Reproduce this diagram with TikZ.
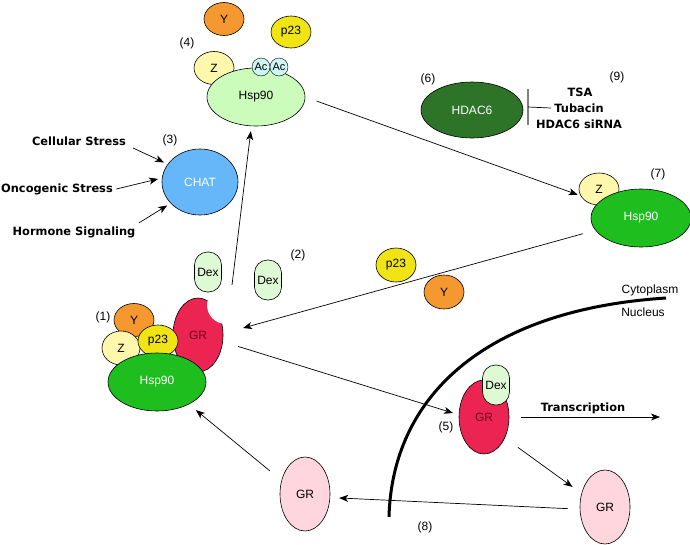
\documentclass[tikz,border=0pt]{standalone}
\usepackage{fontspec}
\setmainfont{Liberation Sans}
\newfontfamily\labfont{DejaVu Sans}
\usepackage{tikz}
\usetikzlibrary{arrows.meta, positioning, shapes.geometric, calc}

\definecolor{colY}{RGB}{245,152,48}
\definecolor{colP}{RGB}{240,228,20}
\definecolor{colZ}{RGB}{255,247,172}
\definecolor{colAc}{RGB}{205,245,245}
\definecolor{colHspL}{RGB}{204,252,188}
\definecolor{colHsp}{RGB}{30,190,30}
\definecolor{colChat}{RGB}{102,182,250}
\definecolor{colHdac}{RGB}{46,116,40}
\definecolor{colGR}{RGB}{236,36,82}
\definecolor{colGRtxt}{RGB}{110,10,30}
\definecolor{colPink}{RGB}{255,214,222}
\definecolor{colDex}{RGB}{222,250,212}

\begin{document}
\begin{tikzpicture}[x=1pt, y=-1pt,
  mol/.style={draw, ellipse, inner sep=0pt, line width=0.6pt,
              font=\fontsize{12}{14}\selectfont},
  protY/.style={mol, fill=colY, minimum width=40pt, minimum height=33pt},
  protZ/.style={mol, fill=colZ, minimum width=40pt, minimum height=33pt},
  protP/.style={mol, fill=colP, minimum width=40pt, minimum height=32pt},
  hspL/.style ={mol, fill=colHspL, minimum width=98pt, minimum height=58pt},
  hspD/.style ={mol, fill=colHsp, text=white, minimum width=100pt, minimum height=58pt},
  grR/.style  ={mol, fill=colGR, text=colGRtxt, minimum width=50pt, minimum height=74pt},
  grP/.style  ={mol, fill=colPink, minimum width=50pt, minimum height=74pt},
  acet/.style ={draw, circle, fill=colAc, inner sep=0pt, minimum size=18pt,
                font=\fontsize{11}{12}\selectfont},
  dex/.style  ={draw, rectangle, rounded corners=13pt, fill=colDex, line width=0.6pt,
                minimum width=27pt, minimum height=40pt, inner sep=0pt,
                font=\fontsize{12}{14}\selectfont},
  num/.style  ={font=\fontsize{12}{14}\selectfont},
  lab/.style  ={font=\labfont\bfseries\fontsize{11.4}{13}\selectfont},
  arr/.style  ={-{Stealth[length=9pt, width=7pt, inset=2.5pt]}, line width=0.7pt},
]
  \useasboundingbox (0,0) rectangle (690,544);

  % === (4) acetylated Hsp90 ===
  \node[protY] (yTop) at (224,19) {Y};
  \node[protP] (pTop) at (291,32) {p23};
  \node[num] (n4) at (187,43) {(4)};
  \node[protZ] (zTop) at (214,68) {Z};
  \node[hspL] (hspT) at (256,97) {Hsp90};
  \node[acet] (acA) at (261,67) {Ac};
  \node[acet] (acB) at (279,67) {Ac};

  % === (3) CHAT and stresses ===
  \node[mol, fill=colChat, text=white, minimum width=76pt, minimum height=66pt]
    (chat) at (200,182) {CHAT};
  \node[num] (n3) at (170,140) {(3)};
  \node[lab] (cellular)  at (79,141) {Cellular Stress};
  \node[lab] (oncogenic) at (57,189) {Oncogenic Stress};
  \node[lab] (hormone)   at (74,232) {Hormone Signaling};
  \coordinate (csEnd) at (133,148);
  \draw[arr, shorten >=4pt] (csEnd) -- (chat.151);
  \draw[arr, shorten >=4pt] (oncogenic.east) -- (chat.174);
  \draw[arr, shorten >=4pt] (hormone.north east) -- (chat.216);

  % === (6) HDAC6 and (9) inhibitors ===
  \node[mol, fill=colHdac, text=white, minimum width=102pt, minimum height=56pt]
    (hdac) at (472,110) {HDAC6};
  \node[num] (n6) at (428,79) {(6)};
  \node[num] (n9) at (617,77) {(9)};
  \node[lab] (tsa)     at (580,92)  {TSA};
  \node[lab] (tubacin) at (579,108) {Tubacin};
  \node[lab] (sirna)   at (579,124) {HDAC6 siRNA};
  \coordinate (barMid) at (528,107);
  \draw[gray, line width=1.5pt] ($(barMid)+(0,-18)$) -- ($(barMid)+(0,18)$);
  \draw[line width=0.7pt] (tubacin.west) -- (barMid);

  % === (7) deacetylated Hsp90 ===
  \node[protZ, minimum height=32pt] (z7) at (599,189) {Z};
  \node[hspD] (hsp7) at (641,218) {Hsp90};
  \node[num] (n7) at (658,174) {(7)};

  % === (2) released cochaperones ===
  \node[protP, minimum height=34pt] (pMid) at (396,265) {p23};
  \node[protY, minimum height=34pt] (yMid) at (444,292) {Y};
  \node[num] (n2) at (298,255) {(2)};

  % === (1) GR complex ===
  \node[grR] (gr1) at (198,335) {GR};
  \fill[white] (226,305) circle (19pt);
  \node[protY] (y1) at (134,320) {Y};
  \node[protZ, minimum width=38pt, minimum height=34pt] (z1) at (121,348) {Z};
  \node[protP] (p1) at (158,341) {p23};
  \node[hspD, minimum width=98pt] (hsp1) at (157,382) {Hsp90};
  \node[num] (n1) at (103,317) {(1)};
  \node[dex] (dex1) at (208,272) {Dex};
  \node[dex] (dex2) at (268,280) {Dex};

  % === Nuclear membrane ===
  \draw[line width=3pt] (389,517) .. controls (392,400) and (480,310) .. (666,298);
  \node[num] (cyto) at (650,290) {Cytoplasm};
  \node[num] (nucl) at (643,312) {Nucleus};

  % === (5) nuclear GR ===
  \node[grR] (gr5) at (484,417) {GR};
  \node[dex] (dex5) at (496,385) {Dex};
  \node[num] (n5) at (446,427) {(5)};
  \node[lab] (transcr) at (583,408) {Transcription};
  \coordinate (txEnd) at (660,417);

  % === (8) recycled GR ===
  \node[grP] (grRt) at (605,507) {GR};
  \node[grP] (grLf) at (305,494) {GR};
  \node[num] (n8) at (425,527) {(8)};

  % === Arrows ===
  \coordinate (upStart) at (232,285);
  \coordinate (dock) at (243,328);
  \draw[arr, shorten >=5pt] (upStart) -- (hspT.261);
  \draw[arr, shorten <=12pt, shorten >=3pt] (hspT.east) -- (z7.200);
  \draw[arr, shorten <=13pt] (hsp7.195) -- (dock);
  \draw[arr, shorten <=16pt, shorten >=6pt] (gr1.-15) -- (gr5.175);
  \draw[arr, shorten <=12pt] (gr5.east) -- (txEnd);
  \draw[arr, shorten <=16pt, shorten >=11pt] (gr5.-45) -- (grRt.150);
  \draw[arr, shorten <=12pt, shorten >=9pt] (grRt.185) -- (grLf.-8);
  \draw[arr, shorten <=15pt, shorten >=9pt] (grLf.150) -- (hsp1.-35);

\end{tikzpicture}
\end{document}
